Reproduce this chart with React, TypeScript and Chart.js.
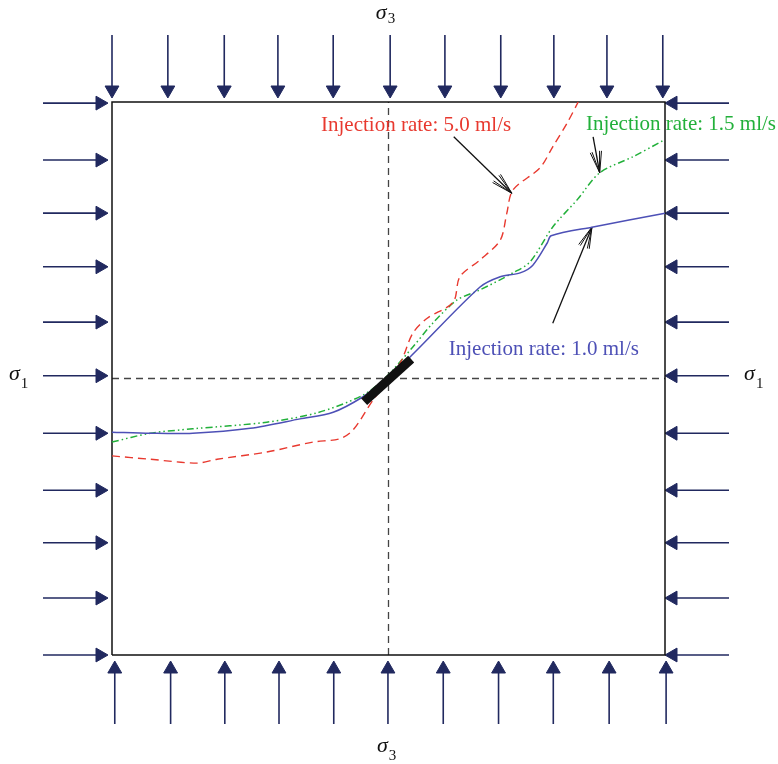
import React, { useEffect, useRef } from 'react';
import { Chart, registerables } from 'chart.js';
Chart.register(...registerables);

// ---- colours ----
const RED = '#e8392f';
const GREEN = '#22b03a';
const BLUE = '#4d50b6';
const NAVY = '#21295f';

// ---- data (box units: square 0..10 both ways) ----
const blueX = [0, 0.69, 1.46, 2.5, 3.4, 4.0, 4.54, 4.9, 5.39, 6.65, 7.02, 7.38, 7.61, 7.87, 7.94, 8.7, 10.0];
const blueY = [4.03, 4.01, 4.01, 4.1, 4.27, 4.39, 4.67, 4.95, 5.39, 6.65, 6.84, 6.91, 7.05, 7.45, 7.58, 7.74, 7.99];

const greenX = [0, 0.69, 1.46, 2.8, 3.71, 4.54, 4.94, 5.44, 5.8, 6.24, 6.65, 7.25, 7.56, 7.97, 8.41, 8.82, 9.42, 9.98];
const greenY = [3.85, 4.01, 4.09, 4.21, 4.38, 4.7, 5.01, 5.57, 6.0, 6.42, 6.6, 6.91, 7.11, 7.74, 8.23, 8.72, 9.01, 9.31];

const redX = [0, 0.69, 1.54, 1.9, 2.8, 3.63, 4.12, 4.36, 4.72, 5.21, 5.44, 5.7, 6.17, 6.29, 6.65, 7.02, 7.14, 7.25, 7.74, 7.97, 8.23, 8.43];
const redY = [3.6, 3.54, 3.47, 3.54, 3.67, 3.85, 3.91, 4.07, 4.61, 5.28, 5.82, 6.09, 6.38, 6.84, 7.14, 7.5, 7.99, 8.41, 8.81, 9.19, 9.62, 10.0];

// loading arrows positions
const topArrowX = [0, 1.01, 2.03, 3.0, 4.0, 5.03, 6.02, 7.03, 7.99, 8.95, 9.96];
const bottomArrowX = [0.05, 1.06, 2.04, 3.02, 4.01, 4.99, 5.99, 6.99, 7.98, 8.99, 10.02];
const sideArrowY = [9.98, 8.95, 7.99, 7.02, 6.02, 5.05, 4.01, 2.98, 2.03, 1.03, 0];

// wellbore / fracture segment
const wellX = [4.56, 5.41];
const wellY = [4.58, 5.35];

// annotation pointers [tailX, tailY, tipX, tipY]
const pointerRed = [6.18, 9.37, 7.23, 8.35];
const pointerGreen = [8.7, 9.37, 8.82, 8.72];
const pointerBlue = [7.97, 6.0, 8.68, 7.74];

const labelTexts = ['Injection rate: 5.0 ml/s', 'Injection rate: 1.5 ml/s', 'Injection rate: 1.0 ml/s'];
const labelX = [3.78, 8.57, 6.09];
const labelY = [9.475, 9.49, 5.42];
const labelColors = [RED, GREEN, BLUE];

const sigmaSubs = ['3', '3', '1', '1'];
const sigmaX = [4.77, 4.79, -1.863, 11.43];
const sigmaY = [11.5, -1.754, 4.973, 4.973];
const sigmaSubDy = [4, 8, 8, 8];

// ---- geometry helpers ----
const PXU = 55.3; // pixels per box unit
const X_MIN = -112 / PXU;
const X_MAX = 10 + (778 - 665) / PXU;
const Y_MIN = -(764 - 655) / PXU;
const Y_MAX = 10 + 102 / PXU;

const zip = (xs: number[], ys: number[]) => xs.map((x, i) => ({ x, y: ys[i] }));

function seg(pts: { x: number; y: number }[], color: string, width: number, extra: any = {}) {
  return {
    data: pts,
    showLine: true,
    borderColor: color,
    backgroundColor: color,
    borderWidth: width,
    pointRadius: 0,
    pointHoverRadius: 0,
    fill: false,
    tension: 0,
    order: 10,
    clip: false,
    ...extra,
  };
}

function arrow(tail: { x: number; y: number }, center: { x: number; y: number }, rot: number) {
  return seg([tail, center], NAVY, 1.6, {
    pointRadius: [0, 8],
    pointHoverRadius: [0, 8],
    pointStyle: 'triangle',
    pointRotation: [0, rot],
    pointBackgroundColor: NAVY,
    pointBorderColor: NAVY,
    pointBorderWidth: 1,
  });
}

function pointer(p: number[]) {
  const [tx, ty, hx, hy] = p;
  const dx = tx - hx, dy = ty - hy;
  const d = Math.hypot(dx, dy);
  const ux = dx / d, uy = dy / d;
  const out: any[] = [seg([{ x: tx, y: ty }, { x: hx, y: hy }], '#111', 1.3)];
  const L = 22 / PXU;
  [15, -15, 10, -10].forEach((a) => {
    const r = (a * Math.PI) / 180;
    const wx = ux * Math.cos(r) - uy * Math.sin(r);
    const wy = ux * Math.sin(r) + uy * Math.cos(r);
    out.push(seg([{ x: hx, y: hy }, { x: hx + wx * L, y: hy + wy * L }], '#111', 1.0));
  });
  return out;
}

const textPlugin = {
  id: 'texts',
  afterDatasetsDraw(chart: any) {
    const { ctx, scales } = chart;
    const sx = scales.x, sy = scales.y;
    ctx.save();
    ctx.textBaseline = 'alphabetic';
    ctx.textAlign = 'left';
    ctx.font = '21px "Liberation Serif", "Times New Roman", serif';
    labelTexts.forEach((t, i) => {
      ctx.fillStyle = labelColors[i];
      ctx.fillText(t, sx.getPixelForValue(labelX[i]), sy.getPixelForValue(labelY[i]));
    });
    ctx.fillStyle = '#111';
    sigmaSubs.forEach((s, i) => {
      const px = sx.getPixelForValue(sigmaX[i]);
      const py = sy.getPixelForValue(sigmaY[i]);
      ctx.font = 'italic 22px "Liberation Serif", "Times New Roman", serif';
      ctx.fillText('σ', px, py);
      const w = ctx.measureText('σ').width;
      ctx.font = '15px "Liberation Serif", "Times New Roman", serif';
      ctx.fillText(s, px + w + 1, py + sigmaSubDy[i]);
    });
    ctx.restore();
  },
};

export default function App() {
  const ref = useRef<HTMLCanvasElement | null>(null);
  useEffect(() => {
    if (!ref.current) return;
    const r8 = 8 / PXU;
    const datasets: any[] = [];

    // curves
    datasets.push(seg(zip(redX, redY), RED, 1.4, { borderDash: [8, 5], tension: 0.3, order: 2 }));
    datasets.push(seg(zip(greenX, greenY), GREEN, 1.5, { borderDash: [7, 3, 1.5, 3, 1.5, 3], tension: 0.3, order: 2 }));
    datasets.push(seg(zip(blueX, blueY), BLUE, 1.5, { tension: 0.3, order: 1 }));

    // wellbore
    datasets.push(seg(zip(wellX, wellY), '#111', 9, { order: 0, borderCapStyle: 'butt' }));

    // box
    datasets.push(seg([{ x: 0, y: 0 }, { x: 10, y: 0 }, { x: 10, y: 10 }, { x: 0, y: 10 }, { x: 0, y: 0 }], '#111', 1.5));
    // centre dashed lines
    datasets.push(seg([{ x: 5, y: 0 }, { x: 5, y: 10 }], '#444', 1.3, { borderDash: [7, 5] }));
    datasets.push(seg([{ x: 0, y: 5 }, { x: 10, y: 5 }], '#444', 1.3, { borderDash: [7, 5] }));

    // loading arrows
    const topTail = (655 - 35) / PXU, topTip = (655 - 98) / PXU;
    const botTail = (655 - 724) / PXU, botTip = (655 - 661) / PXU;
    const leftTail = (43 - 112) / PXU, leftTip = (108 - 112) / PXU;
    const rightTail = (729 - 112) / PXU, rightTip = (665 - 112) / PXU;
    topArrowX.forEach((x) => datasets.push(arrow({ x, y: topTail }, { x, y: topTip + r8 }, 180)));
    bottomArrowX.forEach((x) => datasets.push(arrow({ x, y: botTail }, { x, y: botTip - r8 }, 0)));
    sideArrowY.forEach((y) => datasets.push(arrow({ x: leftTail, y }, { x: leftTip - r8, y }, 90)));
    sideArrowY.forEach((y) => datasets.push(arrow({ x: rightTail, y }, { x: rightTip + r8, y }, 270)));

    // pointers
    [pointerRed, pointerGreen, pointerBlue].forEach((p) => pointer(p).forEach((d) => datasets.push(d)));

    const chart = new Chart(ref.current, {
      type: 'scatter',
      data: { datasets },
      options: {
        responsive: false,
        animation: false,
        devicePixelRatio: 1,
        events: [],
        layout: { padding: 0, autoPadding: false },
        plugins: { legend: { display: false }, tooltip: { enabled: false } },
        scales: {
          x: { type: 'linear', display: false, min: X_MIN, max: X_MAX },
          y: { type: 'linear', display: false, min: Y_MIN, max: Y_MAX },
        },
      },
      plugins: [textPlugin],
    });
    return () => chart.destroy();
  }, []);
  return (
    <div style={{ position: 'absolute', left: 0, top: 0, width: 778, height: 764, background: '#fff' }}>
      <canvas ref={ref} width={778} height={764} />
    </div>
  );
}
